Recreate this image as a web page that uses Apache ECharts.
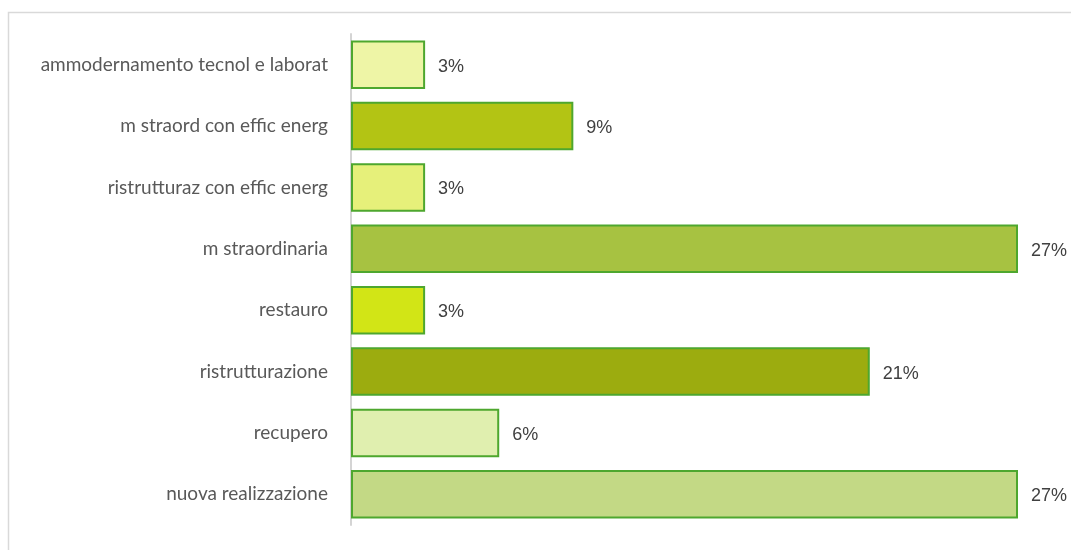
<!DOCTYPE html>
<html><head><meta charset="utf-8">
<script src="https://cdn.jsdelivr.net/npm/echarts@6/dist/echarts.min.js"></script>
<style>html,body{margin:0;padding:0;background:#fff}#c{width:1071px;height:550px}</style>
</head><body><div id="c"></div>
<script>
const categories = ["ammodernamento tecnol e laborat","m straord con effic energ","ristrutturaz con effic energ","m straordinaria","restauro","ristrutturazione","recupero","nuova realizzazione"];
const values = [3, 9, 3, 27, 3, 21, 6, 27];
const barColors = ["#EEF5A6","#B3C414","#E6F07A","#A7C241","#D2E516","#9CAC0F","#E0EFAF","#C3D985"];

const chart = echarts.init(document.getElementById('c'));
chart.setOption({
  animation:false,
  graphic:[{type:'rect',shape:{x:8.5,y:12.5,width:1200,height:700},style:{fill:'none',stroke:'#d9d9d9',lineWidth:1.5},silent:true}],
  grid:{left:351,right:53,top:34,bottom:25},
  xAxis:{type:'value',min:0,max:27,show:false},
  yAxis:{type:'category',inverse:true,data:categories,
    axisLine:{show:true,lineStyle:{color:'#d4d4d4',width:2}},
    axisTick:{show:false},
    axisLabel:{color:'#595959',fontFamily:'Lato',fontSize:19,margin:23}},
  series:[{type:'bar',barCategoryGap:'21%',
    data:values.map((v,i)=>({value:v,itemStyle:{color:barColors[i]}})),
    itemStyle:{borderColor:'#4EA72E',borderWidth:2},
    label:{show:true,position:'right',distance:13,offset:[0,2],formatter:'{c}%',color:'#404040',fontFamily:'Liberation Sans',fontSize:18}}]
});
</script></body></html>
